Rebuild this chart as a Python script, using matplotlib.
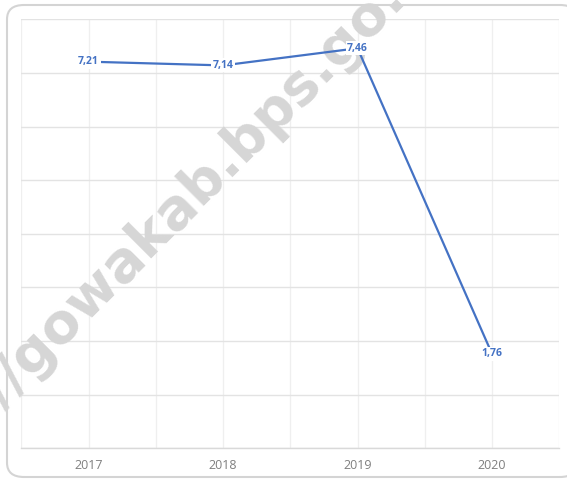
"""
Line chart of yearly values 2017-2020 (BPS Gowa style), with watermark.
"""

import matplotlib
matplotlib.use('Agg')
import matplotlib.pyplot as plt
from matplotlib.patches import FancyBboxPatch

# Data
years = ['2017', '2018', '2019', '2020']
values = [7.21, 7.14, 7.46, 1.76]
value_labels = ['7,21', '7,14', '7,46', '1,76']

LINE_COLOR = '#4472c4'
GRID_COLOR = '#e3e3e3'
TEXT_GRAY = '#7f7f7f'
WATERMARK = 'http://gowakab.bps.go.id'

fig = plt.figure(figsize=(5.67, 4.79), dpi=100)

# Outer rounded frame (behind the axes)
frame = FancyBboxPatch((7 / 567, 2 / 479), 570 / 567, 472 / 479,
                       boxstyle='round,pad=0,rounding_size=0.03',
                       transform=fig.transFigure, facecolor='white',
                       edgecolor='#d4d4d4', linewidth=1.5, zorder=-10)
fig.patches.append(frame)

ax = fig.add_axes([21.3 / 567, 1 - 448.3 / 479, (559.3 - 21.3) / 567, (448.3 - 19.3) / 479])
ax.set_facecolor('none')
ax.set_zorder(1)

x = list(range(len(years)))
ax.plot(x, values, color=LINE_COLOR, linewidth=1.6, zorder=3)

for xi, v, lab in zip(x, values, value_labels):
    ax.text(xi, v, lab, ha='center', va='center', fontsize=7.5, fontweight='bold',
            color=LINE_COLOR, family=['Open Sans', 'DejaVu Sans'], zorder=4,
            bbox=dict(boxstyle='square,pad=0.15', facecolor='white', edgecolor='none'))

ax.set_xlim(-0.5, 3.5)
ax.set_ylim(0, 8)

# Grid: horizontal every unit, vertical every half category
ax.set_yticks(range(0, 9))
ax.set_xticks([i * 0.5 - 0.5 for i in range(9)], minor=True)
ax.set_xticks(x)
ax.set_xticklabels(years, fontsize=9, color=TEXT_GRAY, family=['Open Sans', 'DejaVu Sans'])
ax.tick_params(axis='x', which='both', length=0, pad=8)
ax.tick_params(axis='y', length=0, labelleft=False)
ax.grid(axis='y', color=GRID_COLOR, linewidth=1.0, zorder=0)
ax.grid(axis='x', which='both', color='#efefef', linewidth=0.9, zorder=0)
ax.set_axisbelow(True)

for side in ['top', 'right', 'left']:
    ax.spines[side].set_visible(False)
ax.spines['bottom'].set_color('#d9d9d9')
ax.spines['bottom'].set_linewidth(1.0)

# Watermark, between the grid and the line
ax.text(160 / 567, 1 - 225 / 479, WATERMARK, transform=fig.transFigure,
        rotation=45, rotation_mode='anchor', ha='center', va='center',
        fontsize=40, fontweight='bold', color='#d6d6d6',
        family=['DejaVu Sans'], zorder=2, clip_on=False)

fig.savefig('out.png', dpi=100)
